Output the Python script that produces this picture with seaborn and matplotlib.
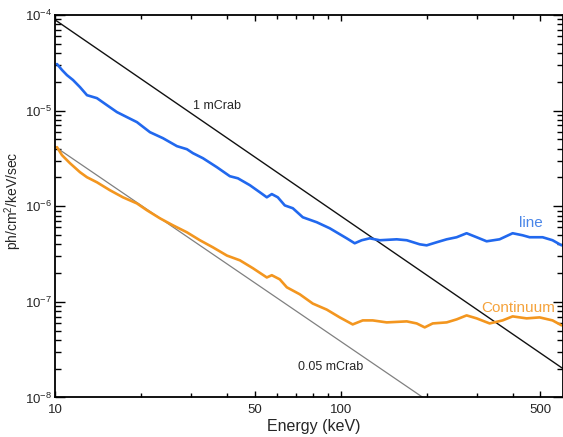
import matplotlib
matplotlib.use("Agg")
import matplotlib.pyplot as plt
import matplotlib.ticker as mticker
import seaborn as sns

# energies (keV) and fluxes
line_energy = [10.16, 10.58, 11.01, 11.56, 12.23, 12.94, 14.02, 15.20, 16.47, 17.85,
               19.35, 21.49, 23.86, 26.71, 28.94, 30.38, 32.93, 36.86, 40.92, 43.65,
               48.07, 52.10, 55.11, 57.37, 60.21, 63.71, 67.96, 73.64, 82.45, 91.53,
               104.9, 111.9, 118.4, 126.3, 136.9, 157.0, 170.2, 188.9, 199.8, 216.6,
               234.8, 254.4, 275.7, 298.9, 323.9, 359.6, 399.5, 432.9, 458.0, 508.6,
               551.1, 592.6]
line_flux = [3.07e-5, 2.66e-5, 2.35e-5, 2.09e-5, 1.76e-5, 1.45e-5, 1.35e-5, 1.14e-5, 9.65e-6, 8.55e-6,
             7.58e-6, 5.95e-6, 5.15e-6, 4.25e-6, 3.95e-6, 3.59e-6, 3.18e-6, 2.56e-6, 2.06e-6, 1.96e-6,
             1.66e-6, 1.40e-6, 1.24e-6, 1.34e-6, 1.24e-6, 1.02e-6, 9.53e-7, 7.67e-7, 6.80e-7, 5.88e-7,
             4.62e-7, 4.10e-7, 4.41e-7, 4.62e-7, 4.41e-7, 4.51e-7, 4.41e-7, 4.00e-7, 3.90e-7, 4.20e-7,
             4.51e-7, 4.74e-7, 5.22e-7, 4.74e-7, 4.30e-7, 4.51e-7, 5.22e-7, 4.97e-7, 4.74e-7, 4.74e-7,
             4.41e-7, 3.90e-7]

cont_energy = [10.16, 10.58, 11.28, 12.23, 12.94, 14.02, 15.57, 17.29, 19.35, 20.97,
               23.29, 25.86, 28.94, 32.14, 35.68, 39.96, 44.36, 49.25, 55.11, 57.37,
               61.18, 64.75, 71.89, 79.81, 89.33, 99.2, 110.1, 119.4, 129.4, 144.8,
               170.2, 184.4, 196.7, 209.8, 234.8, 254.4, 275.7, 298.9, 331.9, 368.5,
               399.5, 447.0, 496.4, 551.1, 592.6]
cont_flux = [4.15e-6, 3.42e-6, 2.82e-6, 2.27e-6, 2.01e-6, 1.78e-6, 1.47e-6, 1.24e-6, 1.07e-6, 9.08e-7,
             7.48e-7, 6.32e-7, 5.34e-7, 4.41e-7, 3.72e-7, 3.05e-7, 2.72e-7, 2.25e-7, 1.80e-7, 1.90e-7,
             1.72e-7, 1.42e-7, 1.20e-7, 9.60e-8, 8.30e-8, 6.88e-8, 5.81e-8, 6.40e-8, 6.40e-8, 6.10e-8,
             6.25e-8, 5.95e-8, 5.41e-8, 5.95e-8, 6.10e-8, 6.56e-8, 7.22e-8, 6.72e-8, 5.95e-8, 6.40e-8,
             7.05e-8, 6.72e-8, 6.88e-8, 6.40e-8, 5.68e-8]

crab1_energy = [10, 600]
crab1_flux = [8.9e-5, 2.0e-8]
crab005_energy = [10, 194]
crab005_flux = [4.2e-6, 1.0e-8]

x_major = [10, 50, 100, 500]
x_minor = [20, 30, 40, 60, 70, 80, 90, 200, 300, 400]

sns.set_style("white")
plt.rcParams["font.family"] = ["Liberation Sans", "DejaVu Sans"]
plt.rcParams["mathtext.default"] = "regular"

fig = plt.figure(figsize=(5.63, 4.37), dpi=100)
ax = fig.add_axes([0.0977, 0.0904, 0.9025, 0.8753])

blue = "#2168ee"
orange = "#f3961f"

sns.lineplot(x=crab1_energy, y=crab1_flux, color="#111111", lw=1.0, ax=ax)
sns.lineplot(x=crab005_energy, y=crab005_flux, color="#808080", lw=0.9, ax=ax)
sns.lineplot(x=line_energy, y=line_flux, color=blue, lw=1.9, ax=ax)
sns.lineplot(x=cont_energy, y=cont_flux, color=orange, lw=1.9, ax=ax)

ax.set_xscale("log")
ax.set_yscale("log")
ax.set_xlim(10, 600)
ax.set_ylim(1e-8, 1e-4)

ax.xaxis.set_major_locator(mticker.FixedLocator(x_major))
ax.xaxis.set_minor_locator(mticker.FixedLocator(x_minor))
ax.xaxis.set_major_formatter(mticker.FixedFormatter([str(v) for v in x_major]))
ax.xaxis.set_minor_formatter(mticker.NullFormatter())
ax.yaxis.set_major_locator(mticker.LogLocator(base=10, numticks=10))
ax.yaxis.set_minor_locator(mticker.LogLocator(base=10, subs=range(2, 10), numticks=10))

ax.tick_params(which="both", direction="in", bottom=True, left=True, top=True, right=True,
               color="black", width=1.0)
ax.xaxis.set_tick_params(which="major", length=4.5, pad=5, labelsize=9.5)
ax.xaxis.set_tick_params(which="minor", length=3)
ax.yaxis.set_tick_params(which="major", length=7.5, pad=2, labelsize=9.5)
ax.yaxis.set_tick_params(which="minor", length=4.5)

for s in ax.spines.values():
    s.set_color("black")
    s.set_linewidth(1.3)

ax.set_xlabel("Energy (keV)", fontsize=11.5)
ax.set_ylabel("ph/cm$^2$/keV/sec", fontsize=10)
ax.xaxis.set_label_coords(0.51, -0.055)
ax.yaxis.set_label_coords(-0.062, 0.514)

ax.text(30.4, 1.11e-5, "1 mCrab", fontsize=9, ha="left", va="center")
ax.text(70.7, 2.06e-8, "0.05 mCrab", fontsize=9, ha="left", va="center")
ax.text(422, 6.64e-7, "line", fontsize=11, color="#4a86e8", ha="left", va="center")
ax.text(311, 8.55e-8, "Continuum", fontsize=11, color="#f5a33c", ha="left", va="center")

fig.savefig("out.png", dpi=100)
